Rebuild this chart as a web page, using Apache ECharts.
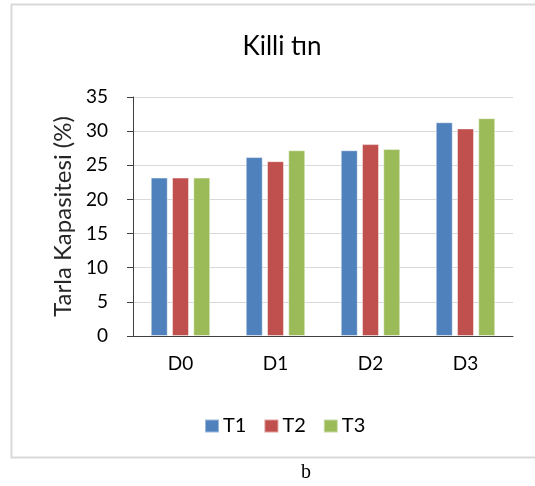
<!DOCTYPE html>
<html>
<head>
<meta charset="utf-8">
<script src="https://cdn.jsdelivr.net/npm/echarts@6/dist/echarts.min.js"></script>
<style>
  html, body { margin: 0; padding: 0; background: #fff; }
  #chart { width: 535px; height: 486px; }
</style>
</head>
<body>
<div id="chart"></div>
<script>
// Field capacity (%) for clay-loam soil by dose and treatment
const categories = ['D0', 'D1', 'D2', 'D3'];
const seriesNames = ['T1', 'T2', 'T3'];
const t1Values = [23.2, 26.2, 27.2, 31.3];
const t2Values = [23.2, 25.6, 28.1, 30.4];
const t3Values = [23.2, 27.2, 27.4, 31.9];
const yTicks = [0, 5, 10, 15, 20, 25, 30, 35];

const colors = ['#4F81BD', '#C0504D', '#9BBB59'];
const fontFamily = 'Lato, "Open Sans", sans-serif';

const chart = echarts.init(document.getElementById('chart'), null, { renderer: 'canvas' });

const valueSets = [t1Values, t2Values, t3Values];

chart.setOption({
  animation: false,
  backgroundColor: '#ffffff',
  title: {
    text: 'Killi tın',
    left: 277,
    top: 29,
    textAlign: 'center',
    textStyle: { fontFamily, fontSize: 26, fontWeight: 'normal', color: '#000' }
  },
  legend: {
    data: seriesNames,
    left: 199,
    top: 411,
    itemWidth: 14,
    itemHeight: 13,
    itemGap: 17,
    icon: 'rect',
    textStyle: { fontFamily, fontSize: 20, color: '#000', padding: [0, 0, 0, -1] }
  },
  grid: { left: 133, right: 22, top: 97, bottom: 150 },
  xAxis: {
    type: 'category',
    data: categories,
    axisLine: { lineStyle: { color: '#404040', width: 1 } },
    axisTick: { alignWithLabel: true, length: 6, lineStyle: { color: '#404040' } },
    axisLabel: { fontFamily, fontSize: 19, color: '#000', margin: 18 }
  },
  yAxis: {
    type: 'value',
    min: yTicks[0],
    max: yTicks[yTicks.length - 1],
    interval: yTicks[1] - yTicks[0],
    name: 'Tarla Kapasitesi (%)',
    nameLocation: 'middle',
    nameGap: 55,
    nameRotate: 90,
    nameTextStyle: { fontFamily, fontSize: 24, color: '#262626' },
    axisLine: { show: true, lineStyle: { color: '#404040', width: 1 } },
    axisTick: { show: true, inside: false, length: 6, lineStyle: { color: '#404040' } },
    axisLabel: { fontFamily, fontSize: 19, color: '#000', margin: 25 },
    splitLine: { lineStyle: { color: '#d9d9d9', width: 1 } }
  },
  series: seriesNames.map((name, i) => ({
    name,
    type: 'bar',
    data: valueSets[i],
    barWidth: 17,
    barGap: '25%',
    itemStyle: {
      color: colors[i],
      borderColor: 'rgba(255,255,255,0.45)',
      borderWidth: 1
    }
  })),
  graphic: [
    {
      type: 'rect',
      shape: { x: 11.5, y: 4.5, width: 560, height: 453 },
      style: { fill: null, stroke: '#d9d9d9', lineWidth: 2 },
      silent: true,
      z: -1
    },
    {
      type: 'text',
      left: 301,
      top: 463,
      style: { text: 'b', font: '20px "Liberation Serif", "DejaVu Serif", serif', fill: '#000' }
    }
  ]
});
</script>
</body>
</html>
